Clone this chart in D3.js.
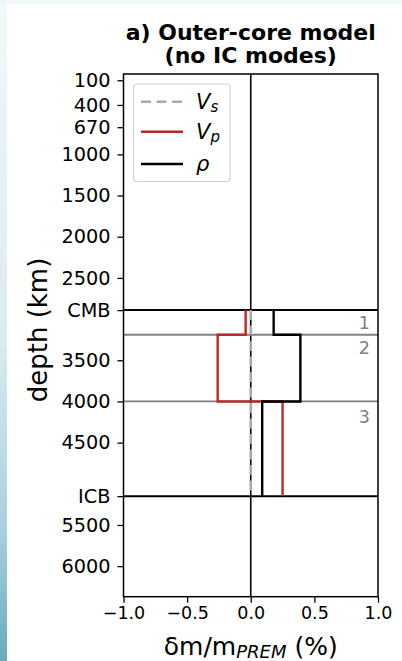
<!DOCTYPE html>
<html>
<head>
<meta charset="utf-8">
<script src="https://cdn.jsdelivr.net/npm/d3@7"></script>
<style>
  body { margin: 0; background: #f3f8fb; }
  text { font-family: "DejaVu Sans", sans-serif; }
</style>
</head>
<body>
<div id="chart"></div>
<script>
// layers of the outer core (depth in km)
const layerTops = [2891, 3190, 4000];
const layerBottoms = [3190, 4000, 5150];
const vsValues = [0, 0, 0];
const vpValues = [-0.04, -0.26, 0.25];
const rhoValues = [0.18, 0.39, 0.09];

const depthTicks = [100, 400, 670, 1000, 1500, 2000, 2500, 2891, 3500, 4000, 4500, 5150, 5500, 6000];
const depthTickLabels = ["100", "400", "670", "1000", "1500", "2000", "2500", "CMB", "3500", "4000", "4500", "ICB", "5500", "6000"];
const xTicks = [-1, -0.5, 0, 0.5, 1];

const majorBoundaries = [2891, 5150];   // CMB, ICB
const innerBoundaries = [3190, 4000];
const layerLabels = ["1", "2", "3"];
const layerLabelDepths = [3123, 3427, 4257];

const width = 402, height = 661;
const plotLeft = 123.5, plotRight = 378, plotTop = 74, plotBottom = 596.7;

const svg = d3.select("#chart")
  .append("svg")
  .attr("width", width)
  .attr("height", height);

// page background bits
const grad = svg.append("defs").append("linearGradient")
  .attr("id", "strip").attr("x1", 0).attr("y1", 0).attr("x2", 0).attr("y2", 1);
grad.append("stop").attr("offset", "0%").attr("stop-color", "#f1f8fb");
grad.append("stop").attr("offset", "50%").attr("stop-color", "#dcecf2");
grad.append("stop").attr("offset", "80%").attr("stop-color", "#aad0dd");
grad.append("stop").attr("offset", "100%").attr("stop-color", "#6aa9bf");
svg.append("rect").attr("width", 7).attr("height", height).attr("fill", "url(#strip)");
svg.append("rect").attr("x", 7).attr("y", 4).attr("width", width - 7).attr("height", height - 4).attr("fill", "white");

const x = d3.scaleLinear().domain([-1, 1]).range([plotLeft, plotRight]);
const y = d3.scaleLinear().domain([24, 6371]).range([plotTop, plotBottom]);

// horizontal boundaries
svg.append("g").selectAll("line")
  .data(innerBoundaries)
  .enter().append("line")
  .attr("x1", plotLeft).attr("x2", plotRight)
  .attr("y1", d => y(d)).attr("y2", d => y(d))
  .attr("stroke", "#808080").attr("stroke-width", 1.8);

svg.append("g").selectAll("line")
  .data(majorBoundaries)
  .enter().append("line")
  .attr("x1", plotLeft).attr("x2", plotRight)
  .attr("y1", d => y(d)).attr("y2", d => y(d))
  .attr("stroke", "black").attr("stroke-width", 2);

// zero line
svg.append("line")
  .attr("x1", x(0)).attr("x2", x(0))
  .attr("y1", plotTop).attr("y2", plotBottom)
  .attr("stroke", "black").attr("stroke-width", 1.6);

// step profiles
function stepPoints(values) {
  const pts = [];
  values.forEach((v, i) => {
    pts.push([v, layerTops[i]]);
    pts.push([v, layerBottoms[i]]);
  });
  return pts;
}
const line = d3.line().x(d => x(d[0])).y(d => y(d[1]));

const series = [
  { name: "Vs", values: vsValues, color: "#aaaaaa", dash: "10,5.5" },
  { name: "Vp", values: vpValues, color: "#be2828", dash: null },
  { name: "rho", values: rhoValues, color: "black", dash: null }
];

series.forEach(s => {
  svg.append("path")
    .attr("d", line(stepPoints(s.values)))
    .attr("fill", "none")
    .attr("stroke", s.color)
    .attr("stroke-width", 2.4)
    .attr("stroke-dasharray", s.dash);
});

// layer numbers
svg.append("g").selectAll("text")
  .data(layerLabels)
  .enter().append("text")
  .attr("x", 370)
  .attr("y", (d, i) => y(layerLabelDepths[i]))
  .attr("text-anchor", "end")
  .attr("font-size", 17.5)
  .attr("fill", "#808080")
  .text(d => d);

// frame
svg.append("rect")
  .attr("x", plotLeft).attr("y", plotTop)
  .attr("width", plotRight - plotLeft).attr("height", plotBottom - plotTop)
  .attr("fill", "none").attr("stroke", "black").attr("stroke-width", 1.5);

// axes
const yAxis = svg.append("g")
  .attr("transform", `translate(${plotLeft},0)`)
  .call(d3.axisLeft(y).tickValues(depthTicks)
    .tickFormat((d, i) => depthTickLabels[i])
    .tickSize(6).tickPadding(7));
yAxis.select(".domain").remove();
yAxis.selectAll("text").attr("font-size", 19.3).attr("fill", "black").attr("font-family", "DejaVu Sans");
yAxis.selectAll("line").attr("stroke-width", 1.3);

const xAxis = svg.append("g")
  .attr("transform", `translate(0,${plotBottom})`)
  .call(d3.axisBottom(x).tickValues(xTicks)
    .tickFormat(d3.format(".1f"))
    .tickSize(6).tickPadding(4));
xAxis.select(".domain").remove();
xAxis.selectAll("text").attr("font-size", 17.5).attr("fill", "black").attr("font-family", "DejaVu Sans");
xAxis.selectAll("line").attr("stroke-width", 1.3);

// axis titles
svg.append("text")
  .attr("transform", "translate(47,330) rotate(-90)")
  .attr("text-anchor", "middle")
  .attr("font-size", 26)
  .text("depth (km)");

const xl = svg.append("text")
  .attr("x", (plotLeft + plotRight) / 2)
  .attr("y", 655)
  .attr("text-anchor", "middle")
  .attr("font-size", 25);
xl.append("tspan").text("δm/m");
xl.append("tspan").attr("font-size", 18).attr("font-style", "italic").attr("dy", 3).text("PREM");
xl.append("tspan").attr("dy", -3).text(" (%)");

// title
const title = svg.append("text")
  .attr("text-anchor", "middle")
  .attr("font-weight", "bold")
  .attr("font-size", 22);
title.append("tspan").attr("x", (plotLeft + plotRight) / 2).attr("y", 40).text("a) Outer-core model");
title.append("tspan").attr("x", (plotLeft + plotRight) / 2).attr("y", 63).text("(no IC modes)");

// legend
const legend = svg.append("g");
legend.append("rect")
  .attr("x", 133.5).attr("y", 84)
  .attr("width", 96.5).attr("height", 97.5)
  .attr("rx", 3)
  .attr("fill", "white").attr("fill-opacity", 0.8)
  .attr("stroke", "#d3d3d3").attr("stroke-width", 1.2);

const legendY = [101.7, 131.7, 164];
const legendMain = ["V", "V", "ρ"];
const legendSub = ["s", "p", ""];
series.forEach((s, i) => {
  legend.append("line")
    .attr("x1", 141).attr("x2", 183)
    .attr("y1", legendY[i]).attr("y2", legendY[i])
    .attr("stroke", s.color).attr("stroke-width", 2.4)
    .attr("stroke-dasharray", s.dash);
  const t = legend.append("text")
    .attr("x", 196).attr("y", legendY[i] + 7)
    .attr("font-size", 21)
    .attr("font-style", "italic");
  t.append("tspan").text(legendMain[i]);
  if (legendSub[i]) {
    t.append("tspan").attr("font-size", 15).attr("dy", 3).text(legendSub[i]);
  }
});
</script>
</body>
</html>
